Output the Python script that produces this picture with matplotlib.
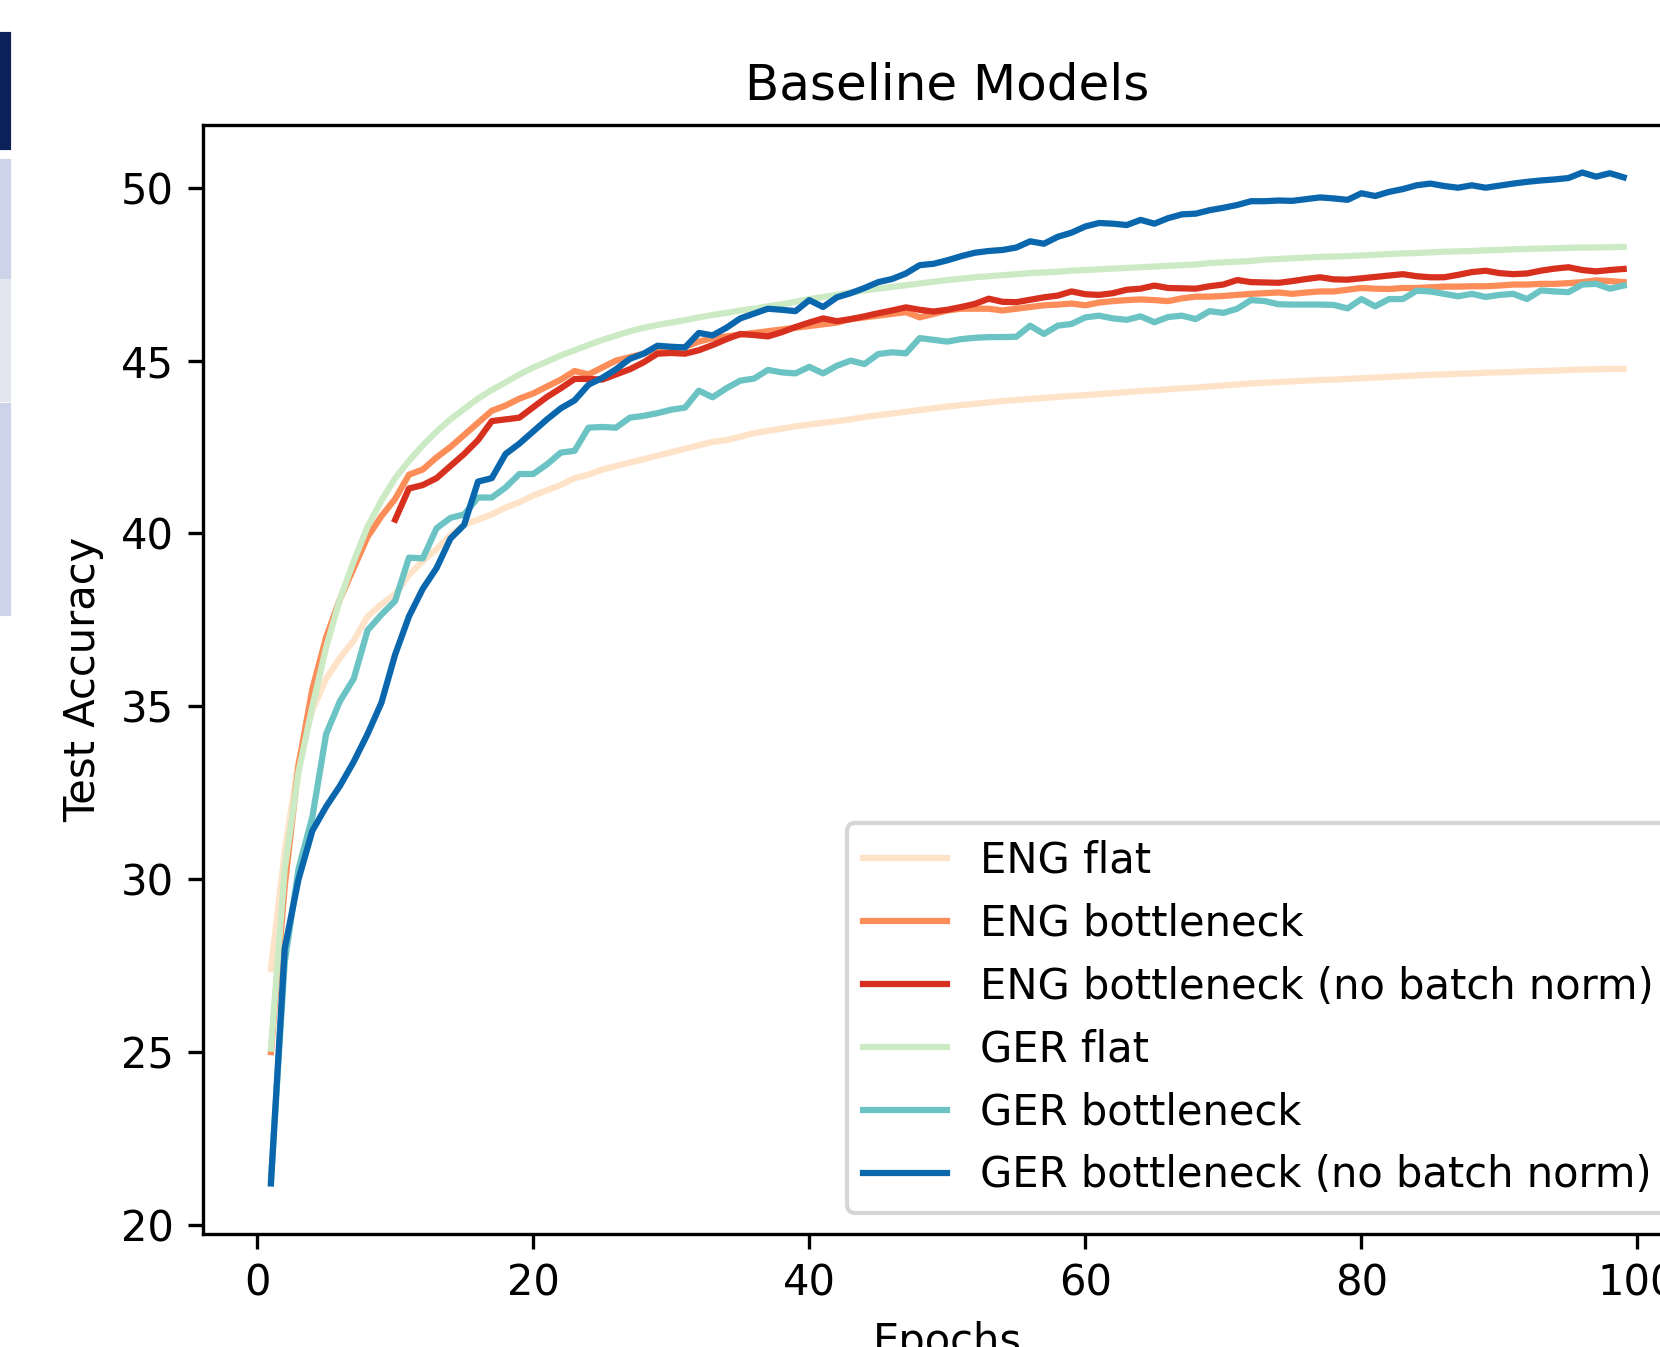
import numpy as np
import matplotlib
matplotlib.use("Agg")
from matplotlib import pyplot as plt
from matplotlib.patches import Rectangle

epochs = list(range(1, 100))
epochs_nobn_eng = list(range(10, 100))

eng_flat = [27.4, 30.8, 33.4, 34.9, 35.8, 36.4, 36.9, 37.6, 37.95, 38.25,
            38.8, 39.2, 39.55, 39.95, 40.25, 40.4, 40.55, 40.75, 40.9, 41.1,
            41.25, 41.4, 41.6, 41.7, 41.85, 41.95, 42.05, 42.15, 42.25, 42.35,
            42.45, 42.55, 42.65, 42.7, 42.8, 42.9, 42.97, 43.03, 43.1, 43.15,
            43.2, 43.25, 43.3, 43.37, 43.42, 43.47, 43.52, 43.57, 43.62, 43.67,
            43.71, 43.75, 43.79, 43.83, 43.86, 43.89, 43.92, 43.95, 43.98, 44.0,
            44.03, 44.06, 44.09, 44.12, 44.14, 44.17, 44.2, 44.22, 44.25, 44.28,
            44.31, 44.34, 44.36, 44.38, 44.4, 44.42, 44.44, 44.45, 44.47, 44.49,
            44.51, 44.53, 44.55, 44.57, 44.59, 44.6, 44.62, 44.63, 44.65, 44.66,
            44.67, 44.69, 44.7, 44.71, 44.73, 44.74, 44.75, 44.76, 44.76]

eng_bottleneck = [25.0, 29.8, 33.3, 35.5, 37.0, 38.1, 39.0, 39.9, 40.5, 41.0,
                  41.7, 41.85, 42.2, 42.5, 42.85, 43.2, 43.55, 43.7, 43.9, 44.05,
                  44.25, 44.45, 44.7, 44.6, 44.8, 45.0, 45.1, 45.2, 45.35, 45.35,
                  45.4, 45.55, 45.65, 45.7, 45.75, 45.8, 45.85, 45.9, 45.95, 46.0,
                  46.05, 46.1, 46.2, 46.25, 46.3, 46.35, 46.4, 46.25, 46.35, 46.45,
                  46.5, 46.5, 46.5, 46.45, 46.5, 46.55, 46.6, 46.62, 46.65, 46.6,
                  46.68, 46.72, 46.75, 46.77, 46.75, 46.72, 46.8, 46.85, 46.85, 46.87,
                  46.9, 46.93, 46.95, 46.97, 46.93, 46.97, 47.0, 47.0, 47.05, 47.1,
                  47.08, 47.07, 47.1, 47.1, 47.12, 47.14, 47.14, 47.15, 47.15, 47.17,
                  47.2, 47.2, 47.22, 47.22, 47.24, 47.27, 47.32, 47.3, 47.27]

# starts at epoch 10
eng_bottleneck_nobn = [40.4, 41.3, 41.4, 41.6, 41.95, 42.3, 42.7, 43.25, 43.3, 43.35,
                       43.65, 43.95, 44.2, 44.47, 44.47, 44.45, 44.6, 44.75, 44.95, 45.2,
                       45.22, 45.2, 45.3, 45.45, 45.62, 45.77, 45.74, 45.7, 45.82, 45.97,
                       46.1, 46.22, 46.14, 46.2, 46.28, 46.37, 46.45, 46.54, 46.47, 46.42,
                       46.47, 46.55, 46.64, 46.79, 46.7, 46.69, 46.76, 46.83, 46.88, 47.0,
                       46.92, 46.9, 46.95, 47.05, 47.08, 47.17, 47.1, 47.09, 47.08, 47.15,
                       47.2, 47.33, 47.27, 47.26, 47.25, 47.3, 47.36, 47.41, 47.35, 47.34,
                       47.38, 47.42, 47.46, 47.5, 47.44, 47.41, 47.41, 47.48, 47.56, 47.6,
                       47.53, 47.5, 47.52, 47.6, 47.66, 47.7, 47.62, 47.58, 47.62, 47.65]

ger_flat = [25.1, 30.3, 33.1, 35.0, 36.7, 38.1, 39.2, 40.2, 40.95, 41.6,
            42.1, 42.55, 42.95, 43.3, 43.6, 43.9, 44.15, 44.37, 44.6, 44.8,
            44.97, 45.15, 45.3, 45.45, 45.6, 45.72, 45.85, 45.95, 46.03, 46.1,
            46.17, 46.25, 46.32, 46.38, 46.45, 46.5, 46.57, 46.63, 46.7, 46.78,
            46.84, 46.9, 46.97, 47.03, 47.08, 47.13, 47.18, 47.23, 47.28, 47.33,
            47.37, 47.41, 47.44, 47.47, 47.5, 47.53, 47.55, 47.57, 47.6, 47.62,
            47.64, 47.66, 47.68, 47.7, 47.72, 47.74, 47.76, 47.78, 47.82, 47.84,
            47.86, 47.88, 47.92, 47.94, 47.96, 47.98, 48.0, 48.01, 48.02, 48.04,
            48.06, 48.08, 48.1, 48.11, 48.13, 48.15, 48.16, 48.17, 48.19, 48.2,
            48.22, 48.23, 48.24, 48.25, 48.26, 48.27, 48.27, 48.28, 48.29]

ger_bottleneck = [21.3, 27.6, 30.3, 31.8, 34.2, 35.15, 35.8, 37.2, 37.65, 38.05,
                  39.3, 39.28, 40.15, 40.45, 40.55, 41.04, 41.04, 41.33, 41.72, 41.72,
                  42.0, 42.34, 42.39, 43.06, 43.08, 43.06, 43.35, 43.4, 43.48, 43.58,
                  43.64, 44.13, 43.94, 44.2, 44.42, 44.48, 44.73, 44.66, 44.63, 44.82,
                  44.63, 44.85, 45.0, 44.9, 45.19, 45.24, 45.21, 45.65, 45.6, 45.55,
                  45.62, 45.66, 45.68, 45.68, 45.69, 46.01, 45.77, 46.01, 46.06, 46.25,
                  46.3, 46.22, 46.18, 46.28, 46.11, 46.26, 46.3, 46.2, 46.43, 46.38,
                  46.5, 46.75, 46.72, 46.63, 46.62, 46.62, 46.62, 46.61, 46.51, 46.78,
                  46.57, 46.78, 46.78, 47.02, 47.0, 46.93, 46.86, 46.93, 46.84, 46.9,
                  46.93, 46.78, 47.03, 47.0, 46.98, 47.2, 47.22, 47.08, 47.17]

ger_bottleneck_nobn = [21.2, 28.0, 30.0, 31.4, 32.1, 32.7, 33.4, 34.2, 35.1, 36.5,
                       37.6, 38.4, 39.0, 39.85, 40.25, 41.5, 41.6, 42.3, 42.6, 42.95,
                       43.3, 43.62, 43.85, 44.3, 44.5, 44.75, 45.05, 45.2, 45.43, 45.4,
                       45.38, 45.8, 45.73, 45.95, 46.22, 46.36, 46.5, 46.47, 46.43, 46.75,
                       46.55, 46.83, 46.95, 47.1, 47.27, 47.36, 47.52, 47.76, 47.8, 47.9,
                       48.02, 48.12, 48.17, 48.2, 48.27, 48.45, 48.38, 48.58, 48.7, 48.88,
                       48.98, 48.96, 48.92, 49.07, 48.96, 49.12, 49.23, 49.25, 49.35, 49.42,
                       49.5, 49.61, 49.61, 49.63, 49.62, 49.67, 49.72, 49.69, 49.65, 49.84,
                       49.76, 49.88, 49.96, 50.07, 50.12, 50.05, 50.0, 50.07, 50.0, 50.06,
                       50.12, 50.17, 50.21, 50.24, 50.28, 50.44, 50.32, 50.42, 50.3]

labels = ["ENG flat", "ENG bottleneck", "ENG bottleneck (no batch norm)",
          "GER flat", "GER bottleneck", "GER bottleneck (no batch norm)"]
colors = ["#fee3c8", "#fc8d59", "#d7301f", "#ccebc5", "#6cc3c4", "#0b67ad"]

fig = plt.figure(figsize=(1660 / 300.0, 1347 / 300.0), dpi=300)
# axes run off the right edge, like the cropped screenshot
ax = fig.add_axes([203.3 / 1660, 113.4 / 1347, 1488.0 / 1660, 1108.8 / 1347])

ax.plot(epochs, eng_flat, color=colors[0], lw=1.5, label=labels[0])
ax.plot(epochs, eng_bottleneck, color=colors[1], lw=1.5, label=labels[1])
ax.plot(epochs_nobn_eng, eng_bottleneck_nobn, color=colors[2], lw=1.5, label=labels[2])
ax.plot(epochs, ger_flat, color=colors[3], lw=1.5, label=labels[3])
ax.plot(epochs, ger_bottleneck, color=colors[4], lw=1.5, label=labels[4])
ax.plot(epochs, ger_bottleneck_nobn, color=colors[5], lw=1.5, label=labels[5])

ax.set_ylim(19.75, 51.82)
ax.set_title("Baseline Models")
ax.set_xlabel("Epochs")
ax.set_ylabel("Test Accuracy")
ax.legend(loc="lower right")

# strips from the screenshot's left border
for y0, y1, c in [(34, 148, "#0b2157"), (161, 277, "#cdd3e8"),
                  (281, 400, "#e4e7f2"), (405, 614, "#cdd3e8")]:
    fig.patches.append(Rectangle((0, 1 - y1 / 1347.0), 8.5 / 1660, (y1 - y0) / 1347.0,
                                 transform=fig.transFigure, color=c, zorder=5))

fig.savefig("out.png", dpi=300)
